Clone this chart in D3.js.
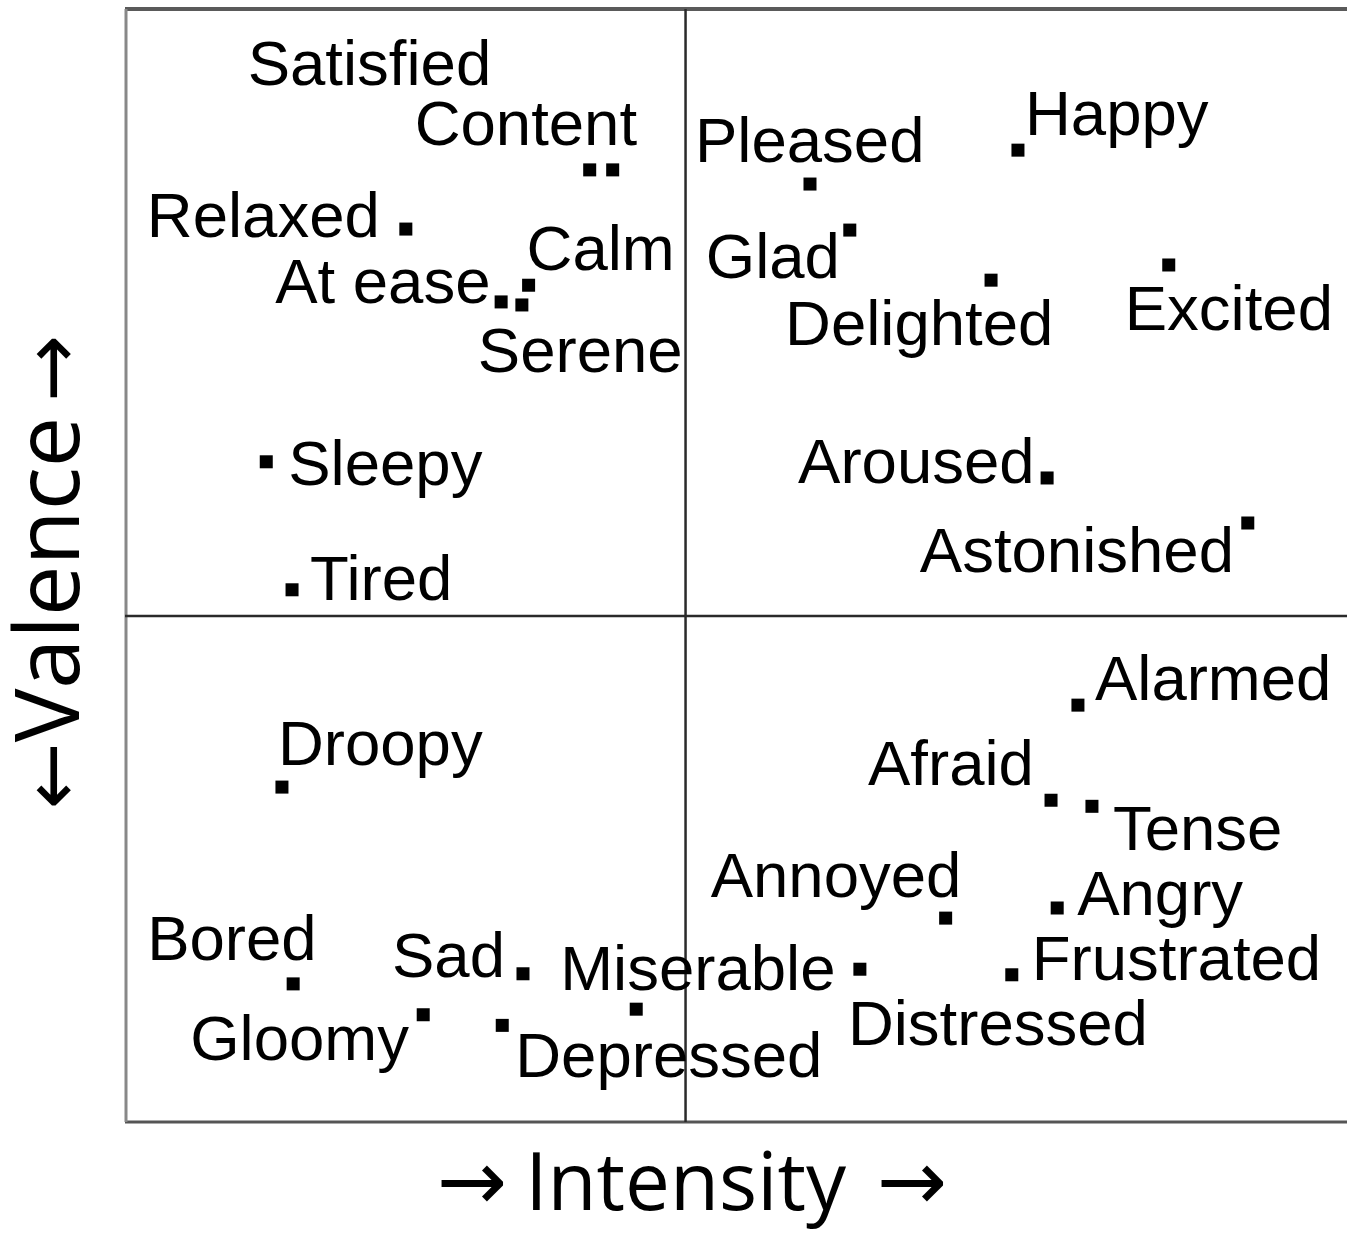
<!DOCTYPE html>
<html>
<head>
<meta charset="utf-8">
<script src="https://cdn.jsdelivr.net/npm/d3@7"></script>
<style>
  html, body { margin: 0; padding: 0; background: #fff; }
  svg { display: block; }
</style>
</head>
<body>
<svg id="chart" width="1347" height="1233"></svg>
<script>
// ---- data ----
const emotions = ["Satisfied","Content","Relaxed","At ease","Calm","Serene","Sleepy","Tired",
  "Pleased","Happy","Glad","Delighted","Excited","Aroused","Astonished",
  "Alarmed","Afraid","Tense","Annoyed","Angry","Frustrated","Distressed",
  "Miserable","Depressed","Sad","Gloomy","Bored","Droopy"];
const intensity = [-0.171,-0.130,-0.499,-0.329,-0.280,-0.292,-0.748,-0.702,
  0.222,0.593,0.293,0.545,0.862,0.645,1.003,
  0.700,0.652,0.725,0.464,0.663,0.582,0.311,
  -0.088,-0.327,-0.290,-0.468,-0.700,-0.720];
const valence = [0.882,0.882,0.765,0.621,0.654,0.615,0.305,0.052,
  0.854,0.921,0.763,0.664,0.694,0.273,0.184,
  -0.176,-0.364,-0.376,-0.597,-0.577,-0.709,-0.698,
  -0.777,-0.809,-0.707,-0.788,-0.727,-0.338];
const xDomain = [-1, 1.18];
const yDomain = [-1, 1.2];
const xTitle = "Intensity";
const yTitle = "Valence";

// ---- layout (label offsets from the point, in px) ----
const labelOffsets = [[-342,-85],[-198,-25],[-259,8],[-226,1],[-2,-15],[-44,67],[22,23],[18,10],
  [-115,-22],[7,-15],[-144,48],[-206,65],[-44,65],[-249,5],[-328,49],
  [17,-5],[-183,-15],[21,44],[-235,-21],[20,7],[20,5],[-12,76],
  [-76,-19],[13,52],[-131,3],[-233,45],[-146,-24],[-4,-22]];

const svg = d3.select("#chart");
svg.append("rect").attr("width",1347).attr("height",1233).attr("fill","#fff");

const x = d3.scaleLinear().domain(xDomain).range([125, 1347]);
const y = d3.scaleLinear().domain(yDomain).range([1122, 9]);

const data = emotions.map((e,i)=>({name:e, x:intensity[i], y:valence[i], off:labelOffsets[i]}));

// frame
const g = svg.append("g");
g.append("line").attr("x1",x(xDomain[0])).attr("x2",x(xDomain[1])).attr("y1",y(yDomain[1])).attr("y2",y(yDomain[1]))
  .attr("stroke","#5a5a5a").attr("stroke-width",4);
g.append("line").attr("x1",x(xDomain[0])).attr("x2",x(xDomain[1])).attr("y1",y(yDomain[0])).attr("y2",y(yDomain[0]))
  .attr("stroke","#555").attr("stroke-width",3);
g.append("line").attr("x1",x(xDomain[0])+1).attr("x2",x(xDomain[0])+1).attr("y1",y(yDomain[1])).attr("y2",y(yDomain[0]))
  .attr("stroke","#888").attr("stroke-width",3);
// quadrant lines
g.append("line").attr("x1",x(0)).attr("x2",x(0)).attr("y1",y(yDomain[1])).attr("y2",y(yDomain[0]))
  .attr("stroke","#2a2a2a").attr("stroke-width",2.5);
g.append("line").attr("x1",x(xDomain[0])).attr("x2",x(xDomain[1])).attr("y1",y(0)).attr("y2",y(0))
  .attr("stroke","#2a2a2a").attr("stroke-width",2.5);

// points
const S = 13;
svg.append("g").selectAll("rect").data(data).join("rect")
  .attr("x", d => x(d.x) - S/2).attr("y", d => y(d.y) - S/2)
  .attr("width", S).attr("height", S).attr("fill", "#000");

// labels
svg.append("g").selectAll("text").data(data).join("text")
  .attr("x", d => x(d.x) + d.off[0]).attr("y", d => y(d.y) + d.off[1])
  .attr("font-family", "'Liberation Sans', Arial, Helvetica, sans-serif")
  .attr("font-size", 63.5).attr("fill", "#000")
  .text(d => d.name);

// axis titles
const arrowFont = "'DejaVu Sans', sans-serif";
const titleFont = "'Open Sans', 'Noto Sans', sans-serif";
const xt = svg.append("text").attr("x", 692).attr("y", 1210).attr("text-anchor","middle").attr("fill","#000");
xt.append("tspan").attr("font-family",arrowFont).attr("font-size",84).text("\u2192");
xt.append("tspan").attr("font-family",titleFont).attr("font-size",80).attr("dx",18).text(xTitle + "\u00a0");
xt.append("tspan").attr("font-family",arrowFont).attr("font-size",84).attr("dx",10).text("\u2192");

const yt = svg.append("text").attr("transform","translate(79,572) rotate(-90)").attr("text-anchor","middle").attr("fill","#000");
yt.append("tspan").attr("font-family",arrowFont).attr("font-size",80).text("\u2190");
yt.append("tspan").attr("font-family",titleFont).attr("font-size",90).text(yTitle + "\u2009");
yt.append("tspan").attr("font-family",arrowFont).attr("font-size",80).text("\u2192");
</script>
</body>
</html>
